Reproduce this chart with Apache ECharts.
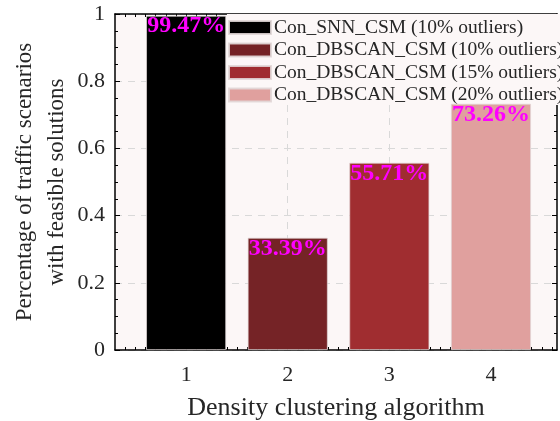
<!DOCTYPE html>
<html>
<head>
<meta charset="utf-8">
<script src="https://cdn.jsdelivr.net/npm/echarts@6/dist/echarts.min.js"></script>
<style>
  html, body { margin: 0; padding: 0; background: #ffffff; }
  #chart { width: 560px; height: 421px; }
</style>
</head>
<body>
<div id="chart"></div>
<script>
// Positions of the four algorithms along the x axis
const algorithms = [1, 2, 3, 4];
// Share of traffic scenarios with a feasible solution
const feasibleShare = [0.9947, 0.3339, 0.5571, 0.7326];
const seriesNames = [
  'Con_SNN_CSM (10% outliers)',
  'Con_DBSCAN_CSM (10% outliers)',
  'Con_DBSCAN_CSM (15% outliers)',
  'Con_DBSCAN_CSM (20% outliers)'
];
const barColors = ['#000000', '#752326', '#a02d30', '#e0a09e'];
const yTicks = [0, 0.2, 0.4, 0.6, 0.8, 1];

const FONT = 'Liberation Serif';
const TEXT = '#262626';
const X_MIN = 0.3, X_MAX = 4.65;

// minor tick positions every 0.1 along x
const xMinor = [];
for (let k = 4; k <= 46; k++) xMinor.push(+(k / 10).toFixed(1));

const chart = echarts.init(document.getElementById('chart'), null, { renderer: 'canvas' });

const barSeries = seriesNames.map((name, i) => ({
  name: name,
  type: 'bar',
  xAxisIndex: 0,
  yAxisIndex: 0,
  barWidth: 80,
  barGap: '-100%',
  z: 5,
  data: [[algorithms[i], feasibleShare[i]]],
  itemStyle: { color: barColors[i], borderColor: 'rgba(225,215,215,0.9)', borderWidth: 0.8 },
  label: {
    show: true,
    position: 'insideTop',
    distance: -1.5,
    formatter: p => (p.value[1] * 100).toFixed(2) + '%',
    color: '#ff00ff',
    fontFamily: FONT,
    fontWeight: 'bold',
    fontSize: 24
  }
}));

// shared frame settings for the boxed axes
const frameLine = { show: true, onZero: false, lineStyle: { color: '#000', width: 1.5 } };

const option = {
  backgroundColor: '#ffffff',
  animation: false,
  grid: {
    left: 115, right: 3, top: 14, bottom: 71,
    outerBoundsMode: 'none',
    containLabel: false,
    show: true, backgroundColor: '#fcf7f7', borderWidth: 0
  },
  legend: {
    orient: 'vertical',
    left: 227, top: 14,
    padding: [3.5, 6, 0, 1],
    itemGap: 2.5,
    itemWidth: 42, itemHeight: 13,
    icon: 'rect',
    z: 4,
    backgroundColor: '#fcf7f7',
    textStyle: { fontFamily: FONT, fontSize: 19.5, color: TEXT, padding: [0, 0, 0, -2] },
    data: seriesNames
  },
  xAxis: [{
    type: 'value',
    min: X_MIN, max: X_MAX,
    position: 'bottom',
    name: 'Density clustering algorithm',
    nameLocation: 'middle',
    nameGap: 45,
    nameMoveOverlap: false,
    nameTextStyle: { fontFamily: FONT, fontSize: 26, color: TEXT },
    axisLine: frameLine,
    axisTick: { show: false, customValues: algorithms },
    axisLabel: { customValues: algorithms, fontFamily: FONT, fontSize: 22, color: TEXT, margin: 14 },
    splitLine: { show: true, lineStyle: { type: [7, 6], color: '#d9d9d9', width: 1 } }
  }, {
    type: 'value',
    min: X_MIN, max: X_MAX,
    position: 'top',
    axisLine: frameLine,
    axisTick: { show: true, inside: true, length: 3, customValues: xMinor, lineStyle: { color: '#000' } },
    axisLabel: { show: false },
    splitLine: { show: false }
  }, {
    type: 'value',
    min: X_MIN, max: X_MAX,
    position: 'bottom',
    axisLine: { show: false, onZero: false },
    axisTick: { show: true, inside: true, length: 3, customValues: xMinor, lineStyle: { color: '#000' } },
    axisLabel: { show: false },
    splitLine: { show: false }
  }],
  yAxis: [{
    type: 'value',
    min: 0, max: 1, interval: 0.2,
    position: 'left',
    name: 'Percentage of traffic scenarios\nwith feasible solutions',
    nameLocation: 'middle',
    nameGap: 42,
    nameMoveOverlap: false,
    nameTextStyle: { fontFamily: FONT, fontSize: 23, color: TEXT, lineHeight: 32 },
    axisLine: frameLine,
    axisTick: { show: true, inside: true, length: 5, lineStyle: { color: '#000' } },
    minorTick: { show: true, splitNumber: 4, length: 3, lineStyle: { color: '#000' } },
    axisLabel: {
      fontFamily: FONT, fontSize: 22, color: TEXT, margin: 10,
      customValues: yTicks,
      formatter: v => String(+v.toFixed(1))
    },
    splitLine: { show: true, lineStyle: { type: [7, 6], color: '#d9d9d9', width: 1 } }
  }, {
    type: 'value',
    min: 0, max: 1, interval: 0.2,
    position: 'right',
    axisLine: frameLine,
    axisTick: { show: true, inside: true, length: 5, lineStyle: { color: '#000' } },
    minorTick: { show: true, splitNumber: 4, length: 3, lineStyle: { color: '#000' } },
    axisLabel: { show: false },
    splitLine: { show: false }
  }],
  series: barSeries
};

chart.setOption(option);
</script>
</body>
</html>
